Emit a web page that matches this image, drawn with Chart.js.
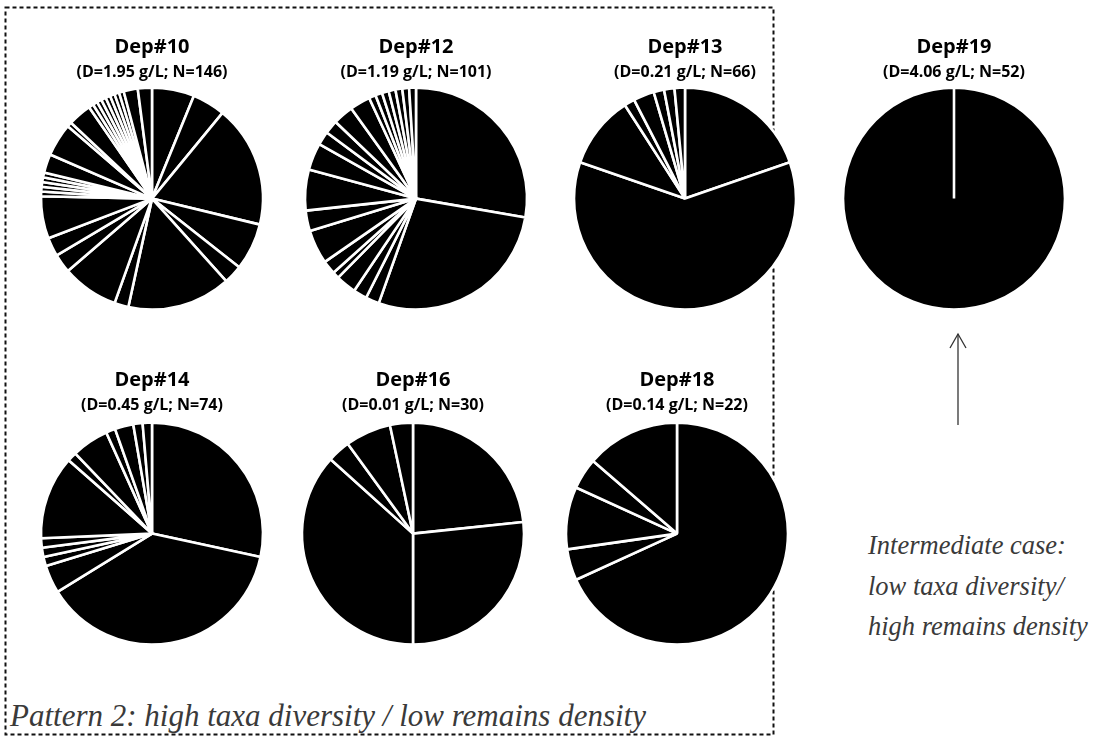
<!DOCTYPE html>
<html>
<head>
<meta charset="utf-8">
<script src="https://cdn.jsdelivr.net/npm/chart.js@4.4.0/dist/chart.umd.min.js"></script>
<style>
body { margin: 0; width: 1102px; height: 738px; background: #fff; position: relative; overflow: hidden; }
.pie { position: absolute; }
.note { position: absolute; font-family: "Liberation Serif", serif; font-style: italic; color: #3a3a3a; white-space: nowrap; }
</style>
</head>
<body>

<svg width="1102" height="738" style="position:absolute;left:0;top:0">
    <rect x="5.5" y="7.5" width="768" height="727" fill="none" stroke="#111" stroke-width="2" stroke-dasharray="4 3"/>
    <line x1="958" y1="425" x2="958" y2="334" stroke="#333" stroke-width="1.3"/>
    <polyline points="950,348 958,334 966,348" fill="none" stroke="#333" stroke-width="1.3"/>
</svg>

<div class="note" style="left:10px;top:696px;font-size:31px;line-height:40px;">Pattern 2: high taxa diversity / low remains density</div>
<div class="note" style="left:868px;top:525px;font-size:26.5px;line-height:40.5px;">Intermediate case:<br>low taxa diversity/<br>high remains density</div>

<script>
//--------------------- DATA (counts per taxon, clockwise from top) -------------------------
const deposits = ['Dep#10', 'Dep#12', 'Dep#13', 'Dep#19', 'Dep#14', 'Dep#16', 'Dep#18'];
const infos = [
    '(D=1.95 g/L; N=146)',
    '(D=1.19 g/L; N=101)',
    '(D=0.21 g/L; N=66)',
    '(D=4.06 g/L; N=52)',
    '(D=0.45 g/L; N=74)',
    '(D=0.01 g/L; N=30)',
    '(D=0.14 g/L; N=22)'
];
const dep10 = [9, 7, 26, 10, 4, 22, 3, 12, 4, 4, 9, 1, 1, 1, 1, 1, 4, 7, 1, 5, 1, 1, 1, 1, 1, 1, 1, 1, 3, 3];
const dep12 = [28, 28, 2, 2, 3, 1, 2, 5, 3, 6, 4, 2, 2, 3, 3, 1, 1, 1, 1, 1, 1, 1];
const dep13 = [13, 40, 7, 1, 2, 1, 1, 1];
const dep19 = [52];
const dep14 = [21, 28, 3, 1, 1, 1, 9, 1, 4, 1, 2, 1, 1];
const dep16 = [7, 8, 11, 1, 2, 1];
const dep18 = [15, 1, 2, 1, 3];
const series = [dep10, dep12, dep13, dep19, dep14, dep16, dep18];

// placement of each canvas (left, top, height)
const spots = [
    [22, 35, 274], [286, 35, 274], [555, 35, 274], [824, 35, 274],
    [22, 368, 278], [283, 368, 278], [547, 368, 278]
];

//--------------------- RENDER -------------------------
series.forEach(function (vals, i) {
    const cv = document.createElement('canvas');
    cv.className = 'pie';
    cv.width = 260;
    cv.height = spots[i][2];
    cv.style.left = spots[i][0] + 'px';
    cv.style.top = spots[i][1] + 'px';
    document.body.appendChild(cv);

    new Chart(cv.getContext('2d'), {
        type: 'pie',
        data: {
            labels: vals.map(function (v, k) { return 'taxon ' + (k + 1); }),
            datasets: [{
                data: vals,
                backgroundColor: '#000',
                borderColor: '#fff',
                borderWidth: 2.6,
                radius: 111,
                hoverOffset: 0
            }]
        },
        options: {
            responsive: false,
            animation: false,
            events: [],
            layout: { padding: 0 },
            plugins: {
                legend: { display: false },
                tooltip: { enabled: false },
                title: {
                    display: true,
                    text: deposits[i],
                    color: '#000',
                    font: { family: 'Open Sans', size: 20, weight: 'bold' },
                    padding: { top: 0, bottom: 4 }
                },
                subtitle: {
                    display: true,
                    text: infos[i],
                    color: '#000',
                    font: { family: 'Open Sans', size: 16, weight: 'bold' },
                    padding: { top: 0, bottom: 6 }
                }
            }
        }
    });
});
</script>
</body>
</html>
